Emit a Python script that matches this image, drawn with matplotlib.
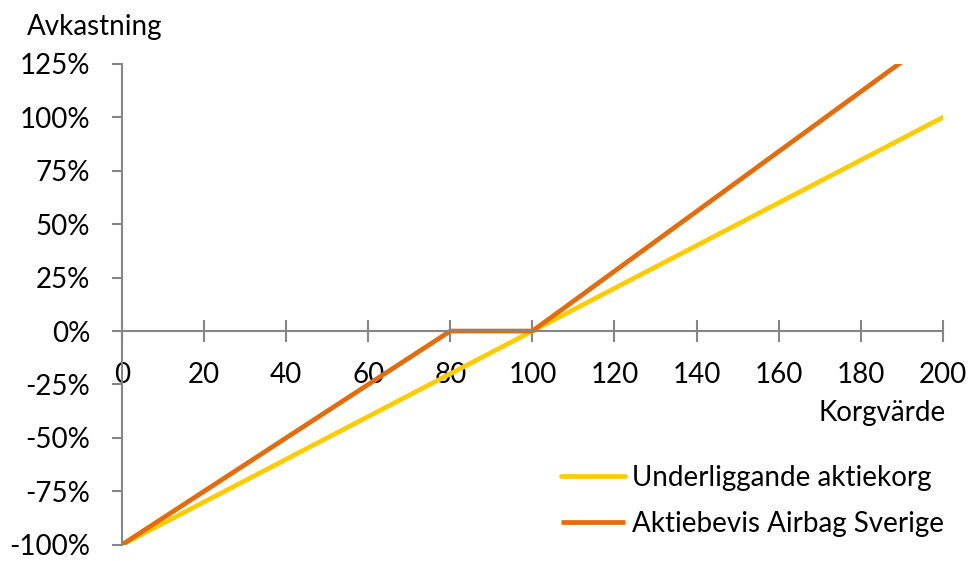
import matplotlib
matplotlib.use("Agg")
import matplotlib.pyplot as plt
from matplotlib.ticker import FuncFormatter

# Data
x_under = [0, 200]
y_under = [-100, 100]
x_airbag = [0, 80, 100, 200]
y_airbag = [-100, 0, 0, 140]
x_ticks = [0, 20, 40, 60, 80, 100, 120, 140, 160, 180, 200]
y_ticks = [-100, -75, -50, -25, 0, 25, 50, 75, 100, 125]
labels = ["Underliggande aktiekorg", "Aktiebevis Airbag Sverige"]

plt.rcParams['font.family'] = ['Lato', 'DejaVu Sans']
fig = plt.figure(figsize=(9.68, 5.61), dpi=100)
ax = fig.add_axes([0.126, 0.029, 0.848, 0.857])

FS = 20
yellow = "#FFCC00"
orange = "#E46C0A"
l1, = ax.plot(x_under, y_under, color=yellow, lw=3.4, solid_capstyle='round', label=labels[0])
l2, = ax.plot(x_airbag, y_airbag, color=orange, lw=3.4, solid_capstyle='butt', label=labels[1])

ax.set_xlim(0, 200)
ax.set_ylim(-100, 125)
ax.set_xticks(x_ticks)
ax.set_yticks(y_ticks)
ax.yaxis.set_major_formatter(FuncFormatter(lambda v, p: f"{int(v)}%"))

gray = "#868686"
for s in ['top', 'right']:
    ax.spines[s].set_visible(False)
ax.spines['left'].set_color(gray)
ax.spines['bottom'].set_color(gray)
ax.spines['left'].set_linewidth(1.5)
ax.spines['bottom'].set_linewidth(1.5)
ax.spines['bottom'].set_position(('data', 0))
ax.tick_params(axis='x', direction='inout', length=16, width=1.5, color=gray, pad=14, labelsize=FS)
ax.tick_params(axis='y', direction='out', length=7, width=1.5, color=gray, pad=16, labelsize=FS)
for lab in ax.get_yticklabels():
    lab.set_horizontalalignment('right')

fig.text(27/968, 1 - 27/561, "Avkastning", fontsize=FS, ha='left', va='center')
fig.text(946/968, 1 - 413/561, "Korgvärde", fontsize=FS, ha='right', va='center')

leg = ax.legend(handles=[l1, l2], loc='lower right', bbox_to_anchor=(1.015, -0.006),
                frameon=False, fontsize=FS, handlelength=2.3, handletextpad=0.25,
                labelspacing=0.72, borderaxespad=0.0)

fig.savefig("out.png", dpi=100)
